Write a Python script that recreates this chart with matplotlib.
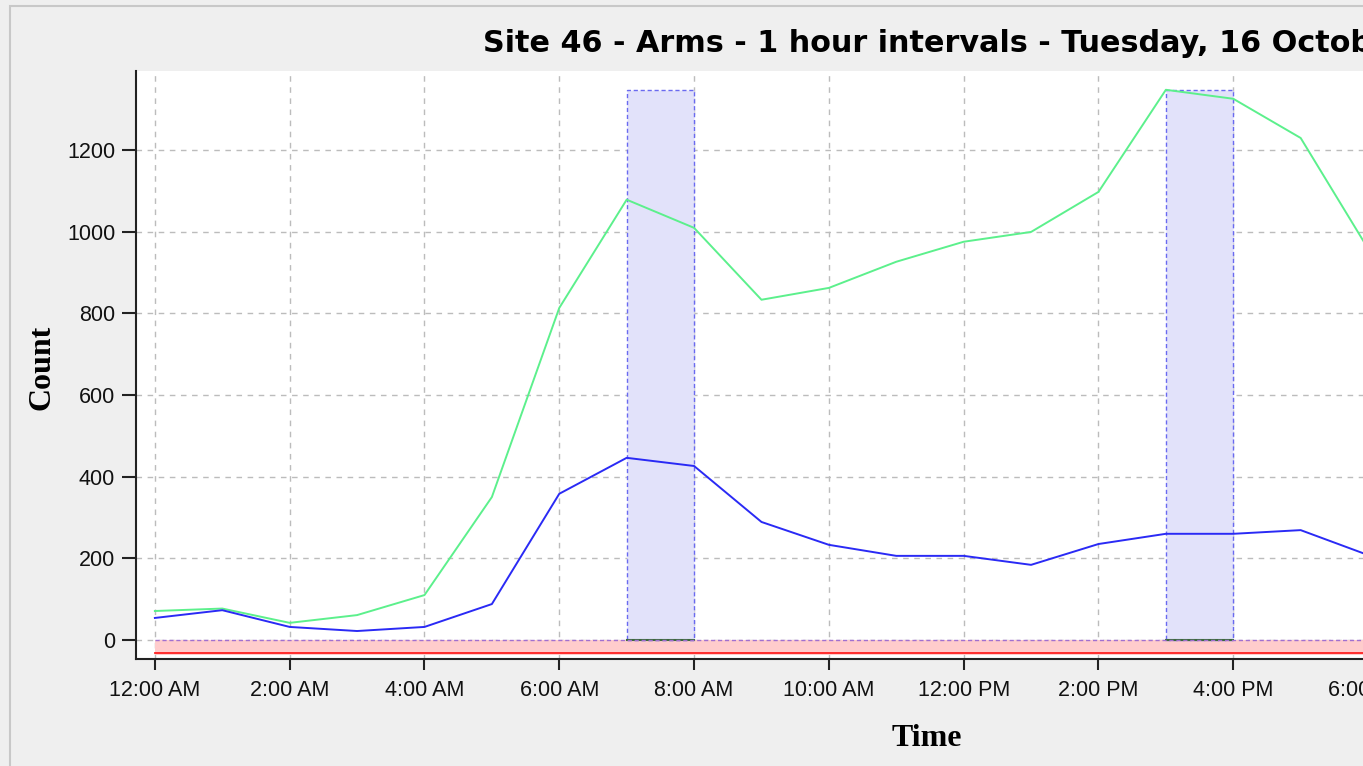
import numpy as np
import matplotlib.pyplot as plt
from matplotlib.patches import Rectangle

# hourly counts (hour 0 = 12:00 AM)
hours = list(range(19))
total = [71, 77, 42, 61, 110, 350, 813, 1078, 1009, 833, 862, 926, 975, 999,
         1097, 1347, 1325, 1229, 958]
arms = [54, 73, 32, 22, 32, 88, 358, 446, 426, 289, 233, 206, 206, 184,
        235, 260, 260, 269, 208]

# peak hour windows (start hour, end hour) and their height
peaks = [(7, 8), (15, 16)]
peak_top = 1347
band_low = -37
red_level = -31

tick_hours = list(range(0, 24, 2))
tick_labels = ["12:00 AM", "2:00 AM", "4:00 AM", "6:00 AM", "8:00 AM", "10:00 AM",
               "12:00 PM", "2:00 PM", "4:00 PM", "6:00 PM", "8:00 PM", "10:00 PM"]

W, H = 1363, 766
fig = plt.figure(figsize=(W / 100, H / 100), dpi=100)
fig.patch.set_facecolor("#efefef")

# outer frame of the window
fig.add_artist(Rectangle((10 / W, -0.1), 1.2, (H - 6) / H + 0.1,
                         transform=fig.transFigure, fill=False,
                         edgecolor="#c8c8c8", lw=1.5))

px_per_hour = 67.4
x0 = -0.28
x1 = 23.5
ax = fig.add_axes([136 / W, (H - 659) / H, (x1 - x0) * px_per_hour / W, (659 - 71) / H])
ax.set_facecolor("white")
ax.set_xlim(x0, x1)
ax.set_ylim(-46.5, 1393)

ax.grid(True, color="#bcbcbc", linestyle=(0, (4, 4)), lw=1)
ax.set_axisbelow(True)

# red band below zero
ax.fill_between([0, 24], band_low, 0, color="#ffcccc", lw=0, zorder=1)
ax.plot([0, 24], [red_level, red_level], color="#ff2020", lw=1.3, zorder=2)

for a, b in peaks:
    ax.add_patch(Rectangle((a, 0), b - a, peak_top, facecolor="#e2e2fa",
                           edgecolor="#6a6af0", linestyle=(0, (3, 2)), lw=1, zorder=2))
    ax.plot([a, b], [0, 0], color="#3c6a3c", lw=1.5, zorder=3)

ax.plot([0, 24], [0, 0], color="#a070d0", lw=1, linestyle=(0, (3, 2)), zorder=3)

ax.plot(hours, total, color="#5cf08c", lw=1.4, zorder=4)
ax.plot(hours, arms, color="#2a2af5", lw=1.4, zorder=4)

ax.set_xticks(tick_hours)
ax.set_xticklabels(tick_labels)
ax.set_yticks(range(0, 1201, 200))
ax.tick_params(axis="both", labelsize=15.5, direction="out", length=8, width=1.5,
               color="#222222", labelcolor="#111111")
ax.tick_params(axis="x", pad=7)
ax.tick_params(axis="y", length=10, pad=5)
for lbl in ax.get_xticklabels() + ax.get_yticklabels():
    lbl.set_family("Liberation Sans")

for s in ["top", "right"]:
    ax.spines[s].set_visible(False)
for s in ["left", "bottom"]:
    ax.spines[s].set_linewidth(1.5)
    ax.spines[s].set_color("#222222")

fig.text(42 / W, (H - 367) / H, "Count", fontsize=23, fontweight="bold",
         family="Liberation Serif", ha="center", va="center", rotation=90)
fig.text(927 / W, (H - 739) / H, "Time", fontsize=23, fontweight="bold",
         family="Liberation Serif", ha="center", va="center")

fig.text(483 / W, (H - 43) / H, "Site 46 - Arms - 1 hour intervals - Tuesday, 16 October 2018",
         fontsize=21.8, fontweight="bold", ha="left", va="center")

fig.savefig("out.png", dpi=100, facecolor=fig.get_facecolor())
